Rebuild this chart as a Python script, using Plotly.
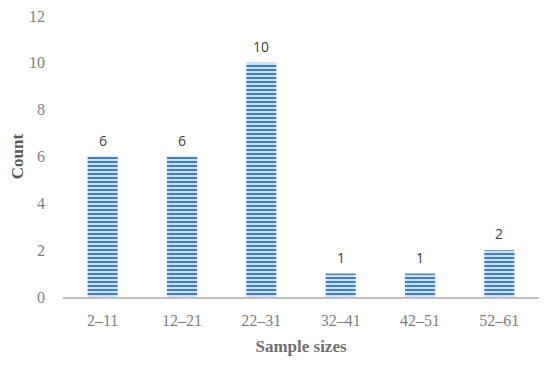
import plotly.graph_objects as go

categories = ["2–11", "12–21", "22–31", "32–41", "42–51", "52–61"]
counts = [6, 6, 10, 1, 1, 2]
y_ticks = [0, 2, 4, 6, 8, 10, 12]

fig = go.Figure()
fig.add_trace(go.Bar(
    x=categories, y=counts,
    marker=dict(
        color="#c5dcf6",
        line=dict(width=0),
        pattern=dict(shape="-", fgcolor="#3b7fd8", bgcolor="#cfe2f8",
                     size=4, solidity=0.5, fillmode="replace"),
    ),
    width=0.38,
    hoverinfo="skip",
))

for c, v in zip(categories, counts):
    fig.add_annotation(x=c, y=v, text=str(v), showarrow=False,
                       yanchor="bottom", yshift=5,
                       font=dict(family="Open Sans, sans-serif", size=14, color="#404040"))

fig.update_layout(
    width=542, height=362,
    margin=dict(l=55, r=11, t=8, b=73),
    paper_bgcolor="white", plot_bgcolor="white",
    showlegend=False,
    font=dict(family="Liberation Serif, serif", color="#7f7f7f", size=16),
    xaxis=dict(
        showgrid=False, showline=True, linecolor="#bfbfbf", linewidth=2,
        ticks="", tickfont=dict(size=16, color="#7f7f7f"), ticklabelstandoff=8,
        automargin=False,
        title=dict(text="<b>Sample sizes</b>", font=dict(size=17, color="#6f6f6f"), standoff=12),
    ),
    yaxis=dict(
        range=[0, 12], tickvals=y_ticks, showgrid=False, zeroline=False,
        showline=False, ticks="", ticklabelstandoff=17, ticklabeloverflow="allow",
        automargin=False,
        tickfont=dict(size=16, color="#7f7f7f"),
        title=dict(text="<b>Count</b>", font=dict(size=17, color="#595959"), standoff=14),
    ),
)

fig.write_html("out.html")
